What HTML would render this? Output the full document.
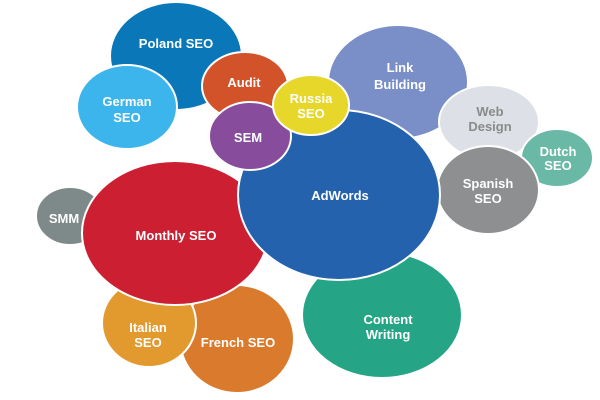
<!DOCTYPE html>
<html><head><meta charset="utf-8"><style>
html,body{margin:0;padding:0;background:#fff;width:600px;height:400px;overflow:hidden}
svg text{font-family:"Liberation Sans",sans-serif;font-weight:bold;font-size:13px;fill:#fff;text-anchor:middle}
ellipse{stroke:#fff;stroke-width:2}
</style></head><body>
<svg width="600" height="400" viewBox="0 0 600 400">
<ellipse cx="176" cy="56" rx="66" ry="54" fill="#0A78B8"/>
<text x="176" y="48">Poland SEO</text>
<ellipse cx="127" cy="107" rx="50" ry="42" fill="#3CB4EC"/>
<text x="127" y="106">German</text><text x="127" y="122">SEO</text>
<ellipse cx="245" cy="86" rx="43" ry="34" fill="#D2522A"/>
<text x="244" y="87">Audit</text>
<ellipse cx="398" cy="82" rx="70" ry="57" fill="#7A8FC8"/>
<text x="400" y="72">Link</text><text x="400" y="89">Building</text>
<ellipse cx="489" cy="122" rx="50" ry="37" fill="#DDE0E6"/>
<text x="490" y="116" style="fill:#8A8A8A">Web</text><text x="490" y="131" style="fill:#8A8A8A">Design</text>
<ellipse cx="557" cy="158" rx="36" ry="29" fill="#6AB9A6"/>
<text x="558" y="156">Dutch</text><text x="558" y="170">SEO</text>
<ellipse cx="488" cy="190" rx="51" ry="44" fill="#8E8F91"/>
<text x="488" y="188">Spanish</text><text x="488" y="203">SEO</text>
<ellipse cx="382" cy="315" rx="80" ry="63" fill="#25A585"/>
<text x="388" y="324">Content</text><text x="388" y="339">Writing</text>
<ellipse cx="237" cy="339" rx="57" ry="54" fill="#DA7A2C"/>
<text x="238" y="347">French SEO</text>
<ellipse cx="149" cy="323" rx="47" ry="44" fill="#E29A2E"/>
<text x="148" y="332">Italian</text><text x="148" y="347">SEO</text>
<ellipse cx="70" cy="216" rx="34" ry="29" fill="#7E8A8A"/>
<text x="64" y="223">SMM</text>
<ellipse cx="175" cy="233" rx="93" ry="72" fill="#CC1F32"/>
<text x="176" y="240">Monthly SEO</text>
<ellipse cx="339" cy="195" rx="101" ry="85" fill="#2462AD"/>
<text x="340" y="200">AdWords</text>
<ellipse cx="250" cy="136" rx="41" ry="34" fill="#884C9C"/>
<text x="248" y="142">SEM</text>
<ellipse cx="311" cy="105" rx="38" ry="30" fill="#E6D72A"/>
<text x="311" y="103">Russia</text><text x="311" y="118">SEO</text>
</svg>
</body></html>
